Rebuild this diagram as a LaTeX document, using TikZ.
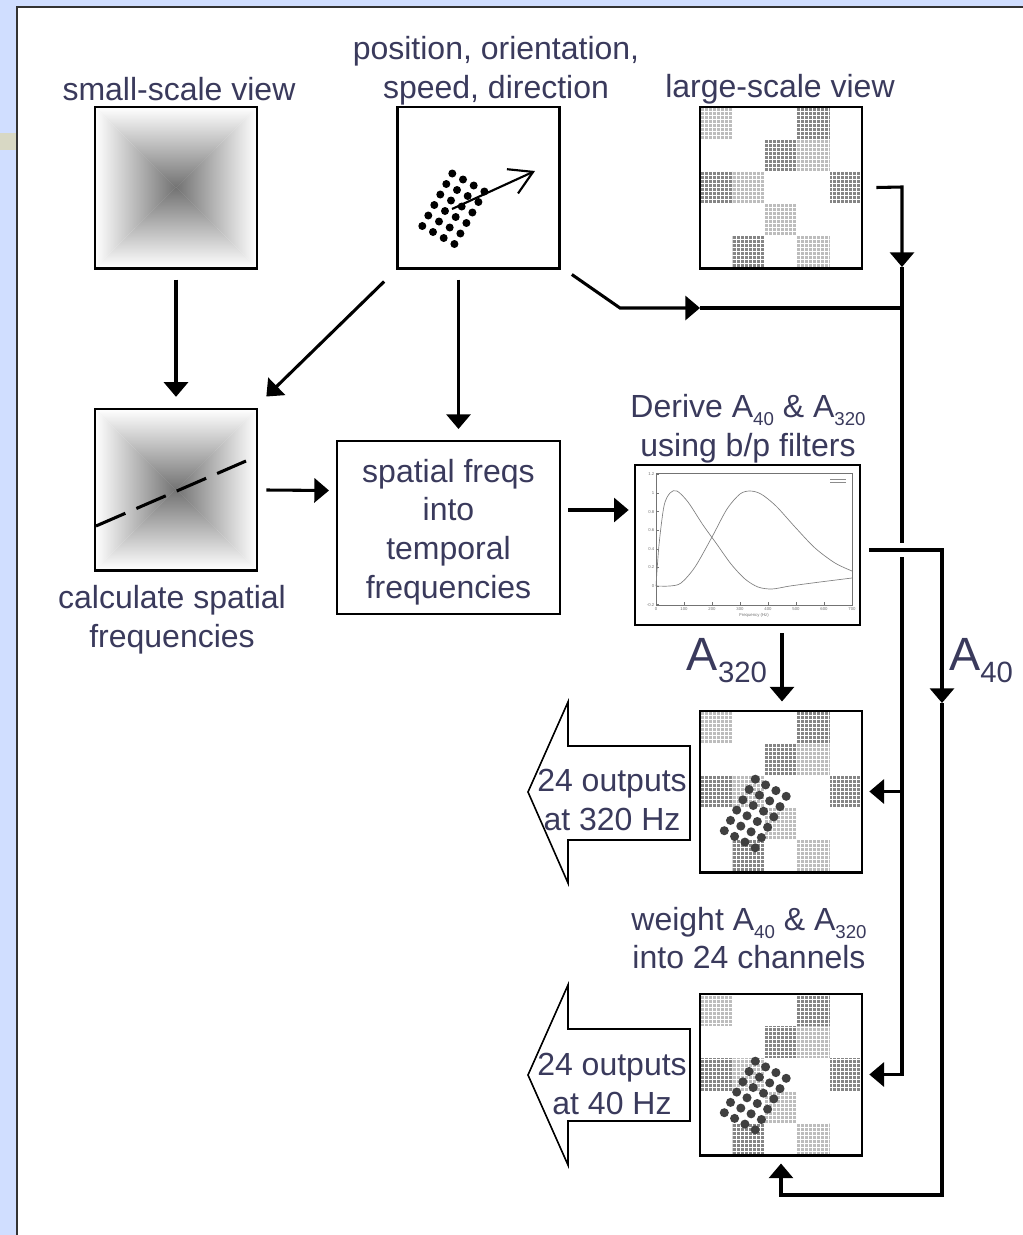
\documentclass[tikz,border=0pt]{standalone}
\usepackage{fontspec}
\setmainfont{Liberation Sans}
\usetikzlibrary{arrows.meta,calc,patterns}
\definecolor{bgblue}{RGB}{208,222,255}
\definecolor{txt}{RGB}{58,58,92}
\definecolor{beige}{RGB}{216,216,196}
\colorlet{celll}{black!26}
\colorlet{celld}{black!48}
\newcommand\sbs[1]{\raisebox{-6pt}{\fontsize{14}{14}\selectfont #1}}
\newcommand\pyr[4]{%
  \pgfmathsetmacro\pcx{(#1+#3)/2}\pgfmathsetmacro\pcy{(#2+#4)/2}%
  \begin{scope}\clip (#1,#2)--(#3,#2)--(\pcx,\pcy)--cycle;
    \shade[top color=white, middle color=black!17, bottom color=black!55] (#1,#2) rectangle (#3,\pcy);\end{scope}
  \begin{scope}\clip (#1,#4)--(#3,#4)--(\pcx,\pcy)--cycle;
    \shade[top color=black!55, middle color=black!17, bottom color=white] (#1,\pcy) rectangle (#3,#4);\end{scope}
  \begin{scope}\clip (#1,#2)--(#1,#4)--(\pcx,\pcy)--cycle;
    \shade[left color=white, middle color=black!17, right color=black!55] (#1,#2) rectangle (\pcx,#4);\end{scope}
  \begin{scope}\clip (#3,#2)--(#3,#4)--(\pcx,\pcy)--cycle;
    \shade[left color=black!55, middle color=black!17, right color=white] (\pcx,#2) rectangle (#3,#4);\end{scope}}
\newcommand\checks[2]{%
  \foreach \cc/\rr/\kk in {0/0/l,3/0/d,2/1/d,3/1/l,0/2/d,1/2/l,4/2/d,2/3/l,1/4/d,3/4/l}{%
    \fill[cell\kk] ({#1+\cc*32.4},{#2+\rr*32.2}) rectangle ++(32.4,32.2);
    \fill[pattern=grid, pattern color=white] ({#1+\cc*32.4},{#2+\rr*32.2}) rectangle ++(32.4,32.2);}}
\newcommand\dotgrid[2]{%
  \foreach \ii in {0,...,3}{\foreach \jj in {0,...,5}{%
    \fill[black!75] ({#1+10.3*\ii+6.2*\jj},{#2+5.7*\ii-10.3*\jj}) circle (3.4pt);}}}
\begin{document}
\begin{tikzpicture}[x=0.75pt,y=-0.75pt,
  lbl/.style={text=txt, font=\fontsize{24}{29}\selectfont, align=center, inner sep=0pt},
  biglbl/.style={text=txt, font=\fontsize{35}{35}\selectfont, inner sep=0pt},
  imgbox/.style={draw=black, line width=2pt, minimum width=121.5pt, minimum height=121pt, inner sep=0pt},
  conn/.style={line width=2.3pt},
  arr/.style={conn, -{Triangle[length=11pt,width=18pt]}},
  bigarrow/.style={draw=black, line width=1.2pt, fill=white, line join=miter},
  ticklbl/.style={text=black!55, font=\fontsize{3.2}{3.5}\selectfont, inner sep=0.3pt}]
\useasboundingbox (0,0) rectangle (1023,1235);
\fill[bgblue] (0,0) rectangle (1023,1235);
\fill[beige] (0,133) rectangle (16,150);
\draw[black!80, line width=1.5pt, fill=white] (16.5,6.5) rectangle (1060,1260);

% ---- top labels
\node[lbl] (tsmall) at (179,89) {small-scale view};
\node[lbl] (tpos) at (496,71) {position, orientation,\\speed, direction};
\node[lbl] (tlarge) at (780,89) {large-scale view};

% ---- small-scale view
\pyr{95}{107}{257}{268}
\node[imgbox] (small) at (176,187.5) {};

% ---- dots box
\foreach \ii in {0,...,3}{\foreach \jj in {0,...,5}{%
  \fill ({422.3+10.7*\ii+6*\jj},{226+6*\ii-10.5*\jj}) circle (3pt);}}
\draw[line width=1.6pt, -{Straight Barb[length=17pt,width=20pt]}] (452,209) -- (535,171);
\node[imgbox] (dots) at (478.5,187.5) {};

% ---- large-scale view
\checks{700}{107}
\node[imgbox] (large) at (781,187.5) {};

% ---- calc box
\pyr{95}{409}{257}{570}
\draw[line width=2.3pt, dash pattern=on 24pt off 9pt] (96,526) -- (246,461);
\node[imgbox] (calc) at (176,489.5) {};
\node[lbl] (tcalc) at (172,620) {calculate spatial\\frequencies};

% ---- spatial freqs box
\node[draw=black, line width=1.5pt, minimum width=167.25pt, minimum height=129.75pt, inner sep=0pt] (freqs) at (448.5,527.5) {};
\node[lbl] (tfreqs) at (448.5,532) {spatial freqs\\into\\temporal\\frequencies};

% ---- graph box
\node[lbl] (tderive) at (748,429) {Derive A\sbs{40} \& A\sbs{320}\\using b/p filters};
\draw[black!55, line width=0.4pt] (656,473) rectangle (852,605);
\foreach \v/\t in {1.2/1.2,1/1,0.8/0.8,0.6/0.6,0.4/0.4,0.2/0.2,0/0,-0.2/-0.2}{%
  \draw[black!55, line width=0.3pt] (656,{586-93*\v}) -- (659,{586-93*\v});
  \node[ticklbl, anchor=east] at (655,{586-93*\v}) {\t};}
\foreach \k in {0,...,7}{%
  \draw[black!55, line width=0.3pt] ({656+28*\k},605) -- ({656+28*\k},602);
  \pgfmathtruncatemacro\lab{100*\k}
  \node[ticklbl] at ({656+28*\k},609) {\lab};}
\node[ticklbl] at (754,615) {Frequency (Hz)};
\draw[black!45, line width=0.3pt] (830,479) -- (846,479);
\draw[black!45, line width=0.3pt] (830,482.5) -- (846,482.5);
\draw[black!50, line width=0.5pt] plot[smooth] coordinates {(656,586) (659,545) (664,506) (670,493) (677,491) (688,502) (703,525) (716,543) (731,564) (745,579) (758,587) (772,589) (790,586) (820,582) (852,578)};
\draw[black!50, line width=0.5pt] plot[smooth] coordinates {(656,586) (670,586) (681,583) (695,567) (712,537) (727,509) (740,494) (750,491) (761,494) (776,506) (795,527) (815,548) (835,563) (852,571)};
\node[imgbox, minimum width=168.75pt, minimum height=120pt] (graph) at (747.5,545) {};

% ---- output boxes
\checks{700}{711}
\dotgrid{724.3}{830.7}
\node[imgbox] (out320) at (781,791.5) {};
\node[lbl] (tweight) at (749,938) {weight A\sbs{40} \& A\sbs{320}\\into 24 channels};
\checks{700}{994}
\dotgrid{724.3}{1112.7}
\node[imgbox] (out40) at (781,1074.5) {};

% ---- big output arrows
\draw[bigarrow] (690,746) -- (568,746) -- (568,702) -- (528,792) -- (568,883) -- (568,840) -- (690,840) -- cycle;
\node[lbl] (o320) at (612,800) {24 outputs\\at 320 Hz};
\draw[bigarrow] (690,1029) -- (568,1029) -- (568,985) -- (528,1075) -- (568,1165) -- (568,1121) -- (690,1121) -- cycle;
\node[lbl] (o40) at (612,1084) {24 outputs\\at 40 Hz};

% ---- big labels
\node[biglbl] (lA320) at (727,661) {A\raisebox{-9pt}{\fontsize{22}{22}\selectfont 320}};
\node[biglbl] (lA40) at (981,661) {A\raisebox{-9pt}{\fontsize{22}{22}\selectfont 40}};

% ---- connectors
\coordinate (bend) at (620,308);
\coordinate (mA) at (700,308);
\coordinate (busA) at (902,308);
\coordinate (busTop) at (902,187);
\coordinate (mB) at (902,267);
\coordinate (gapT) at (902,543);
\coordinate (gapB) at (902,557);
\coordinate (a40c) at (942,550);
\coordinate (mC) at (942,703);
\coordinate (loopR) at (942,1195);

\draw[arr, shorten <=7.5pt, shorten >=8pt] (small.south) -- (calc.north);
\draw[arr] ($(dots.south west)+(-12,12)$) -- ($(calc.north east)+(8,-11)$);
\draw[arr] ($(dots.south)+(-20,10)$) -- ($(freqs.north)+(10,-11)$);
\draw[arr] ($(dots.south east)+(11,5)$) -- (bend) -- (mA);
\draw[conn] (mA) -- (busA);
\draw[arr] ($(large.east)+(13,0)$) -- (busTop) -- (mB);
\draw[conn] (mB) -- (gapT);
\draw[arr] (gapB) |- ($(out40.east)+(6,0)$);
\draw[arr] (out320.east -| busTop) -- ($(out320.east)+(6,0)$);
\draw[arr] ($(graph.east)+(8,5)$) -- (a40c) -- (mC);
\draw[arr] (mC) -- (loopR) -| ($(out40.south)+(0,7)$);
\draw[arr] ($(calc.east)+(8,0.5)$) -- ($(freqs.west)+(-7,-37)$);
\draw[arr] ($(freqs.east)+(7,-17.5)$) -- ($(graph.west)+(-5,-35)$);
\draw[arr] ($(graph.south)+(34.5,7)$) -- ($(out320.north)+(1,-8)$);
\end{tikzpicture}
\end{document}
